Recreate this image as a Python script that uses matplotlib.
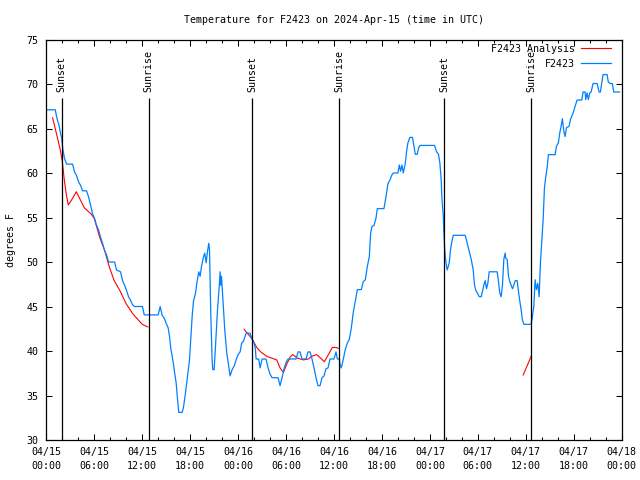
import numpy as np
import matplotlib
matplotlib.use("Agg")
import matplotlib.pyplot as plt

# hours since 2024-04-15 00:00 UTC
obs_hours = [0, 1.125, 1.25, 1.375, 1.58, 1.75, 1.92, 2.0, 2.08, 2.29, 2.54, 3.29, 3.54, 3.79, 4.04,
             4.29, 4.54, 5.04, 5.29, 5.54, 5.79, 6.04, 6.29, 6.54, 6.79, 7.04, 7.29, 7.54, 7.79, 8.54,
             8.79, 9.29, 9.54, 9.79, 10.04, 10.29, 10.54, 10.79, 11.04, 12.04, 12.25, 14.0, 14.25, 14.5,
             14.75, 15.0, 15.25, 15.42, 15.58, 15.75, 15.92, 16.08, 16.25, 16.42, 16.58, 17.0, 17.17,
             17.42, 17.67, 17.92, 18.08, 18.25, 18.42, 18.67, 18.83, 19.08, 19.25, 19.42, 19.67, 19.83,
             20.0, 20.17, 20.33, 20.42, 20.58, 20.75, 20.83, 21.0, 21.17, 21.42, 21.58, 21.75, 21.83,
             21.92, 22.08, 22.33, 22.58, 22.83, 23.0, 23.25, 23.5, 23.75, 24.0, 24.25, 24.45, 24.67,
             25.0, 25.5, 25.75, 26.0, 26.17, 26.25, 26.58, 26.75, 27.0, 27.5, 27.75, 28.0, 28.25, 29.0,
             29.25, 29.5, 29.75, 30.0, 30.25, 31.25, 31.5, 31.75, 32.0, 32.5, 32.75, 33.0, 33.25, 33.5,
             33.75, 34.0, 34.25, 34.5, 34.75, 35.0, 35.25, 35.5, 36.0, 36.25, 36.42, 36.67, 36.75,
             36.92, 37.17, 37.42, 37.67, 37.92, 38.17, 38.42, 38.67, 38.92, 39.42, 39.67, 39.92, 40.17,
             40.42, 40.58, 40.75, 41.0, 41.25, 41.42, 42.25, 42.5, 42.75, 43.0, 43.25, 43.42, 44.0,
             44.17, 44.33, 44.5, 44.67, 44.92, 45.08, 45.25, 45.5, 45.83, 46.08, 46.17, 46.42, 46.58,
             46.75, 48.58, 48.83, 49.08, 49.25, 49.42, 49.5, 49.67, 49.75, 49.83, 49.92, 50.08, 50.17,
             50.42, 50.58, 50.75, 50.92, 52.42, 52.67, 52.92, 53.17, 53.42, 53.58, 53.75, 54.0, 54.17,
             54.42, 54.58, 54.75, 54.92, 55.08, 55.25, 55.42, 56.42, 56.58, 56.75, 56.92, 57.08, 57.25,
             57.42, 57.5, 57.67, 57.83, 58.0, 58.17, 58.33, 58.5, 58.67, 58.92, 59.08, 59.25, 59.42,
             59.58, 59.75, 60.67, 60.83, 61.0, 61.17, 61.33, 61.5, 61.67, 61.83, 62.0, 62.17, 62.33,
             62.5, 62.67, 62.83, 63.67, 63.83, 64.08, 64.25, 64.42, 64.58, 64.75, 64.92, 65.08, 65.42,
             65.58, 65.92, 66.17, 66.42, 67.0, 67.17, 67.42, 67.5, 67.67, 67.83, 68.0, 68.17, 68.42,
             68.92, 69.17, 69.33, 69.5, 69.67, 70.17, 70.33, 70.58, 70.83, 71.0, 71.75]
obs_temps = [67.1, 67.1, 66.5, 66.0, 65.4, 64.6, 63.9, 63.3, 62.6, 61.6, 61.0, 61.0, 60.1, 59.7, 59.0,
             58.6, 58.0, 58.0, 57.3, 56.4, 55.4, 54.9, 54.1, 53.6, 52.8, 52.1, 51.3, 50.8, 50.0, 50.0,
             49.1, 48.9, 47.9, 47.4, 46.8, 46.1, 45.7, 45.2, 45.0, 45.0, 44.06, 44.06, 45.0, 44.0,
             43.7, 43.1, 42.6, 41.6, 40.3, 39.4, 38.5, 37.4, 36.4, 34.6, 33.1, 33.1, 33.7,
             35.3, 37.2, 39.0, 41.4, 43.9, 45.6, 46.5, 47.6, 48.9, 48.4, 49.5, 50.6, 51.0,
             49.9, 51.2, 52.1, 51.4, 44.2, 39.0, 37.9, 37.9, 40.5, 44.6, 46.5, 48.9, 47.4,
             48.4, 46.1, 42.4, 39.8, 38.3, 37.2, 37.9, 38.3, 39.0, 39.6, 39.9, 40.9, 41.1,
             42.0, 42.0, 41.3, 40.9, 40.2, 39.1, 39.1, 38.1, 39.1, 39.1, 38.1, 37.4, 37.0, 37.0,
             36.1, 37.0, 38.0, 38.7, 39.1, 39.1, 39.9, 39.9, 39.1, 39.1, 39.9, 39.9, 39.1, 38.1,
             37.0, 36.1, 36.1, 37.0, 37.2, 38.0, 38.1, 39.1, 39.1, 39.9, 39.1, 39.1, 38.5,
             38.1, 39.1, 40.2, 40.9, 41.3, 42.6, 44.4, 45.6, 46.9, 46.9, 47.8, 48.0, 49.5,
             50.6, 53.2, 54.0, 54.1, 54.9, 56.0, 56.0, 57.3, 58.8, 59.2, 59.8, 60.0, 60.0,
             60.9, 60.2, 60.9, 60.0, 61.1, 62.4, 63.4, 64.0, 64.0, 62.6, 62.1, 62.1, 62.8,
             63.1, 63.1, 62.4, 62.1, 61.1, 59.1, 57.2, 55.2, 53.3, 51.8, 50.6, 49.5, 49.1,
             49.9, 51.4, 52.3, 53.0, 53.0, 52.1, 51.2, 50.3, 49.1, 47.4, 46.8, 46.4, 46.1,
             46.1, 46.7, 47.4, 47.9, 47.0, 47.6, 48.9, 48.9, 47.8, 46.5, 46.1, 47.4, 50.3,
             51.0, 50.4, 50.3, 48.4, 47.8, 47.4, 47.0, 47.4, 47.9, 47.9, 46.7, 45.6, 44.6,
             43.5, 43.0, 43.0, 43.9, 45.0, 48.0, 46.9, 47.6, 46.1, 49.9, 52.3, 54.75, 58.3,
             59.6, 60.6, 62.06, 62.06, 63.0, 63.4, 64.5, 65.25, 66.1, 64.7, 64.1, 65.1, 65.25,
             66.0, 66.75, 67.5, 68.2, 68.2, 69.1, 69.1, 68.25, 69.0, 68.25, 69.0, 69.1, 70.05,
             70.05, 69.1, 69.1, 70.05, 71.06, 71.06, 70.2, 70.05, 70.05, 69.1, 69.1]

ana_hours = [0.79, 1.25, 1.75, 2.0, 2.25, 2.5, 2.75, 3.25, 3.75, 4.25, 4.75, 5.6, 6.0, 6.67, 7.3,
             7.9, 8.5, 9.2, 10.0, 10.8, 11.7, 12.0, 12.7, np.nan,
             24.75, 25.79, 26.33, 26.83, 27.58, 28.2, 28.83, 29.25, 29.67, 30.08, 30.5, 30.83,
             31.42, 32.17, 32.8, 33.2, 33.83, 34.8, 35.3, 35.8, 36.2, 36.6, np.nan,
             59.67, 60.7]
ana_temps = [66.2, 64.5, 62.6, 61.3, 59.25, 57.6, 56.4, 57.1, 57.9, 57.0, 56.1, 55.4, 54.9, 52.8, 51.3,
             49.4, 47.9, 46.8, 45.3, 44.2, 43.3, 43.0, 42.7, np.nan,
             42.45, 41.3, 40.4, 39.9, 39.4, 39.2, 39.0, 38.1, 37.6, 38.5, 39.3, 39.6,
             39.2, 39.0, 39.1, 39.4, 39.6, 38.8, 39.6, 40.4, 40.4, 40.3, np.nan,
             37.3, 39.45]

sun_hours = [1.92, 12.79, 25.79, 36.67, 49.79, 60.67]
sun_labels = ["Sunset", "Sunrise", "Sunset", "Sunrise", "Sunset", "Sunrise"]

xtick_hours = list(range(0, 73, 6))
xtick_labels = ["04/15\n00:00", "04/15\n06:00", "04/15\n12:00", "04/15\n18:00",
                "04/16\n00:00", "04/16\n06:00", "04/16\n12:00", "04/16\n18:00",
                "04/17\n00:00", "04/17\n06:00", "04/17\n12:00", "04/17\n18:00",
                "04/18\n00:00"]
ytick_values = [30, 35, 40, 45, 50, 55, 60, 65, 70, 75]

plt.rcParams['font.family'] = ['DejaVu Sans Mono']
FS = 7.2

fig = plt.figure(figsize=(6.4, 4.8), dpi=100)
ax = fig.add_axes([46.3/640, 40/480, (621.7-46.3)/640, (440-39.5)/480])

ax.plot(ana_hours, ana_temps, color='#ff0000', lw=0.8, label='F2423 Analysis')
ax.plot(obs_hours, obs_temps, color='#0080ff', lw=0.9, label='F2423')

for h, lab in zip(sun_hours, sun_labels):
    ax.vlines(h, 30, 68.4, color='black', lw=0.9)
    ax.text(h, 69.15, lab, rotation=90, ha='center', va='bottom', fontsize=FS)

ax.set_xlim(0, 72)
ax.set_ylim(30, 75)
ax.set_xticks(xtick_hours)
ax.set_xticklabels(xtick_labels, fontsize=FS, linespacing=1.5)
ax.set_xticks(range(0, 73, 2), minor=True)
ax.set_yticks(ytick_values)
ax.set_yticklabels([str(v) for v in ytick_values], fontsize=FS)
ax.tick_params(axis='both', which='major', direction='in', length=4.5, width=0.75,
               top=True, right=True)
ax.tick_params(axis='x', which='major', pad=5)
ax.tick_params(axis='y', which='major', pad=5.5)
ax.tick_params(axis='x', which='minor', direction='in', length=2.2, width=0.75, top=True)
for s in ax.spines.values():
    s.set_linewidth(0.9)

ax.set_title('Temperature for F2423 on 2024-Apr-15 (time in UTC)', fontsize=FS, pad=12)
ax.set_ylabel('degrees F', fontsize=FS, va='center')
ax.yaxis.set_label_coords(-0.062, 0.5)

ax.legend(loc='upper right', bbox_to_anchor=(0.982, 0.99), frameon=False, markerfirst=False,
          fontsize=FS, handlelength=3.0, handletextpad=0.6, labelspacing=0.5, borderpad=0,
          borderaxespad=0)

fig.savefig('out.png', dpi=100)
